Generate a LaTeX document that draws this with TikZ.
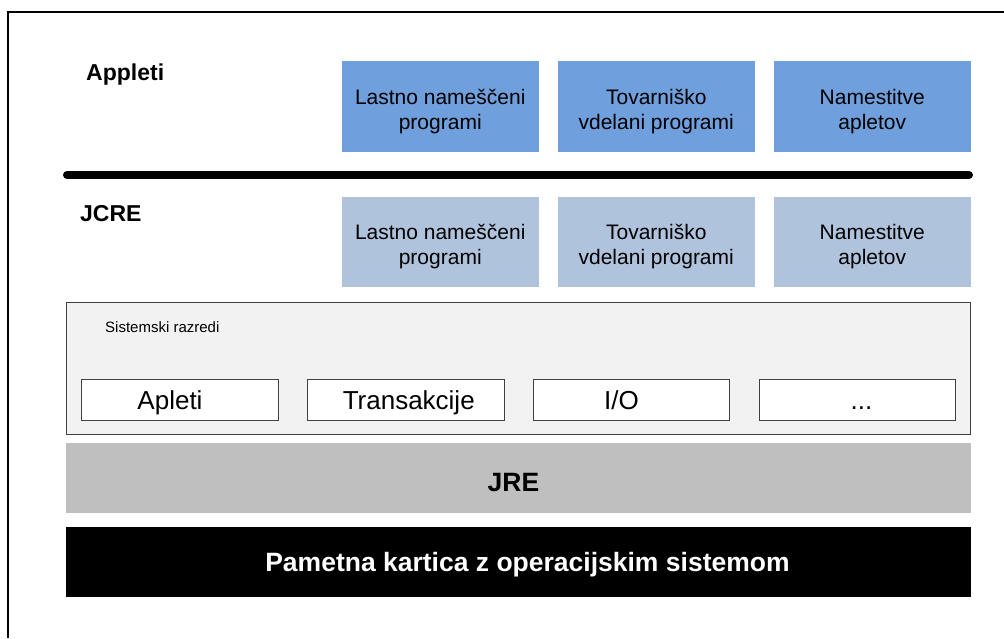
\documentclass[tikz,border=0pt]{standalone}
\usepackage{fontspec}
\setmainfont{Liberation Sans}
\definecolor{appblue}{HTML}{6F9FDC}
\definecolor{jcreblue}{HTML}{B0C3DD}
\definecolor{sysfill}{HTML}{F2F2F2}
\definecolor{jregray}{HTML}{BFBFBF}
\definecolor{edgegray}{HTML}{404040}
\begin{document}
\begin{tikzpicture}[x=1pt,y=-1pt,
  tilebox/.style={rectangle, inner sep=0pt, minimum width=197.5pt, align=center,
    text height=45pt, text depth=0pt, font=\fontsize{21}{25}\selectfont},
  apptile/.style={tilebox, fill=appblue, minimum height=91pt},
  jcretile/.style={tilebox, fill=jcreblue, minimum height=90pt},
  layerlabel/.style={anchor=base west, inner sep=0pt, font=\fontsize{23}{27}\selectfont\bfseries},
  classbox/.style={rectangle, draw=edgegray, line width=1pt, fill=white, inner sep=0pt,
    minimum width=196.5pt, minimum height=41pt, text height=19pt, text depth=0pt,
    font=\fontsize{26}{30}\selectfont},
  bar/.style={rectangle, inner sep=0pt, minimum width=905pt, minimum height=70pt,
    text depth=0pt, font=\fontsize{26.5}{30}\selectfont\bfseries}
]
\useasboundingbox (0,0) rectangle (1004,638);
\fill[white] (0,0) rectangle (1004,638);

% outer frame (top and left edges)
\coordinate (frameTR) at (1004,12);
\coordinate (frameTL) at (8,12);
\coordinate (frameBL) at (8,638);
\draw[line width=1.3pt] (frameTR) -- (frameTL) -- (frameBL);

% applet layer
\node[layerlabel] (applabel) at (86,80) {Appleti};
\node[apptile] (app1) at (440.25,106.5) {Lastno nameščeni\\programi};
\node[apptile] (app2) at (656.25,106.5) {Tovarniško\\vdelani programi};
\node[apptile] (app3) at (872.25,106.5) {Namestitve\\apletov};

% separator
\coordinate (sepL) at (67,175);
\coordinate (sepR) at (969,175);
\draw[line width=8pt, line cap=round] (sepL) -- (sepR);

% JCRE layer
\node[layerlabel] (jcrelabel) at (80,221) {JCRE};
\node[jcretile] (jc1) at (440.25,242) {Lastno nameščeni\\programi};
\node[jcretile] (jc2) at (656.25,242) {Tovarniško\\vdelani programi};
\node[jcretile] (jc3) at (872.25,242) {Namestitve\\apletov};

% system classes
\node[rectangle, draw=edgegray, line width=1pt, fill=sysfill, inner sep=0pt,
  minimum width=904pt, minimum height=132pt] (sys) at (518,368) {};
\node[anchor=base west, inner sep=0pt, font=\fontsize{15}{18}\selectfont] (syslabel) at (105,332) {Sistemski razredi};
\node[classbox] (c1) at (180,399.5) {Apleti\hspace*{20pt}};
\node[classbox] (c2) at (405.75,399.5) {\hspace*{6pt}Transakcije};
\node[classbox] (c3) at (631.5,399.5) {I/O\hspace*{20pt}};
\node[classbox] (c4) at (857.5,399.5) {\hspace*{8pt}...};

% runtime and card
\node[bar, fill=jregray, text height=26pt] (jre) at (518.5,478) {JRE\hspace*{10pt}};
\node[bar, fill=black, text=white, text height=19pt] (card) at (518.5,562) {\hspace*{18pt}Pametna kartica z operacijskim sistemom};
\end{tikzpicture}
\end{document}
